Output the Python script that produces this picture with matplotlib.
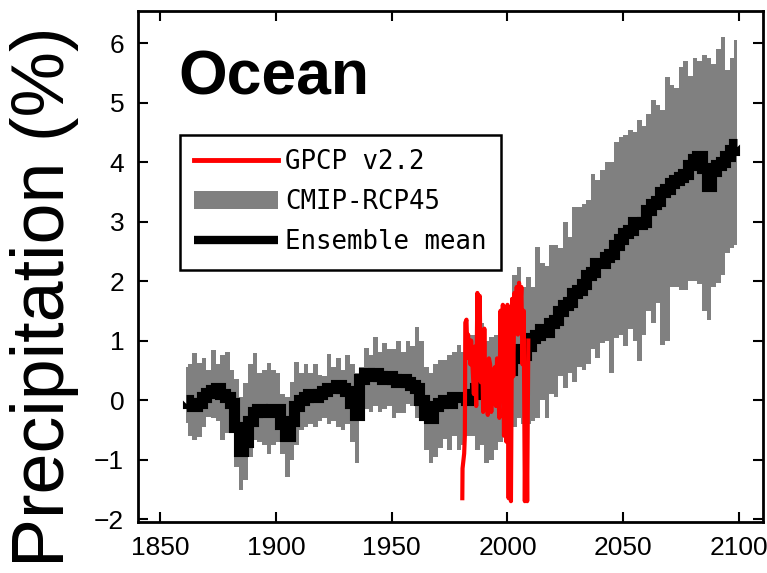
import matplotlib
matplotlib.use("Agg")
import matplotlib.pyplot as plt
import numpy as np

# Годи (центри 2-річних кроків) та значення
years = np.arange(1861, 2101, 2)

ens_mean = [0.0, -0.05, -0.1, -0.05, 0.05, 0.12, 0.17, 0.2, 0.1, 0.05,
            -0.05, -0.45, -0.85, -0.7, -0.35, -0.2, -0.15, -0.2, -0.2, -0.15,
            -0.15, -0.4, -0.6, -0.35, -0.1, 0.0, 0.05, 0.1, 0.05, 0.1,
            0.15, 0.2, 0.2, 0.25, 0.2, 0.15, -0.05, -0.25, 0.35, 0.45,
            0.4, 0.45, 0.4, 0.35, 0.4, 0.35, 0.3, 0.35, 0.3, 0.25,
            0.2, 0.0, -0.25, -0.3, -0.1, -0.05, 0.0, -0.05, 0.05, 0.05,
            0.05, 0.0, 0.1, 0.2, 0.25, 0.15, 0.1, 0.2, 0.3, 0.45,
            0.5, 0.7, 0.85, 0.75, 0.9, 1.05, 1.1, 1.2, 1.15, 1.3,
            1.35, 1.5, 1.6, 1.65, 1.8, 1.85, 1.95, 2.1, 2.15, 2.3,
            2.3, 2.4, 2.45, 2.6, 2.7, 2.8, 2.85, 3.0, 2.95, 3.0,
            3.2, 3.3, 3.35, 3.5, 3.55, 3.65, 3.7, 3.75, 3.8, 3.95,
            4.05, 4.1, 3.9, 3.6, 3.85, 3.95, 4.0, 4.1, 4.2, 4.3]

cmip_upper = [0.55, 0.6, 0.79, 0.62, 0.7, 0.5, 0.84, 0.6, 0.75, 0.8,
              0.5, 0.35, 0.05, 0.28, 0.6, 0.79, 0.45, 0.5, 0.62, 0.5,
              0.45, 0.1, 0.05, 0.3, 0.64, 0.45, 0.6, 0.45, 0.6, 0.42,
              0.4, 0.78, 0.55, 0.7, 0.5, 0.75, 0.6, 0.45, 0.55, 0.87,
              0.75, 1.06, 0.8, 0.95, 0.85, 0.85, 1.0, 0.8, 1.0, 0.9,
              1.23, 1.0, 0.56, 0.45, 0.6, 0.67, 0.67, 0.75, 0.8, 0.92,
              0.8, 0.95, 1.1, 0.95, 1.3, 1.0, 1.06, 1.1, 1.2, 1.4,
              1.6, 2.1, 2.24, 1.9, 2.07, 1.9, 2.57, 2.3, 2.25, 2.6,
              2.6, 2.55, 3.0, 2.74, 3.25, 3.25, 3.3, 3.36, 3.8, 3.7,
              3.86, 4.0, 4.0, 4.34, 4.42, 4.45, 4.54, 4.5, 4.7, 4.6,
              4.8, 5.04, 4.95, 4.87, 5.43, 5.3, 5.25, 5.6, 5.7, 5.45,
              5.75, 5.7, 5.8, 5.75, 5.65, 5.9, 6.1, 5.55, 5.75, 6.05]

cmip_lower = [-0.39, -0.6, -0.67, -0.62, -0.45, -0.28, -0.3, -0.35, -0.67, -0.55,
              -0.5, -1.12, -1.51, -1.35, -0.95, -0.67, -0.7, -0.75, -0.9, -0.75,
              -0.7, -0.9, -1.3, -1.0, -0.75, -0.5, -0.45, -0.4, -0.45, -0.35,
              -0.3, -0.4, -0.35, -0.45, -0.5, -0.4, -0.7, -1.05, -0.3, -0.15,
              -0.2, -0.1, -0.2, -0.15, -0.1, -0.3, -0.22, -0.22, -0.06, -0.1,
              -0.3, -0.34, -0.84, -1.06, -0.95, -0.8, -0.65, -0.84, -0.6, -0.84,
              -0.75, -0.6, -0.6, -0.84, -0.75, -1.06, -1.0, -0.84, -0.7, -0.6,
              -0.5, -0.45, -0.3, -0.4, -0.4, -0.35, -0.3, 0.0, -0.3, 0.1,
              0.05, 0.4, 0.2, 0.45, 0.3, 0.55, 0.5, 0.6, 0.85, 0.7,
              0.95, 1.0, 0.45, 1.05, 1.1, 0.9, 1.2, 1.0, 0.65, 1.1,
              1.5, 1.3, 1.63, 0.92, 1.0, 1.9, 1.9, 1.85, 1.85, 2.0,
              2.0, 1.95, 1.5, 1.34, 1.9, 1.97, 2.1, 2.47, 2.55, 2.6]

gpcp_years = [1980.5, 1980.6, 1981.3, 1981.6, 1981.8, 1982.3, 1982.6, 1983.0,
              1983.3, 1983.6, 1984.0, 1984.3, 1985.0, 1985.5, 1986.0, 1986.5,
              1987.0, 1987.5, 1988.0, 1988.5, 1989.0, 1989.5, 1990.0, 1990.5,
              1991.0, 1991.5, 1992.0, 1992.5, 1993.0, 1993.5, 1994.0, 1994.5,
              1995.0, 1995.5, 1996.0, 1996.5, 1997.0, 1997.5, 1998.0, 1998.5,
              1999.0, 1999.5, 2000.0, 2000.5, 2001.0, 2001.5, 2002.0, 2002.5,
              2003.0, 2003.5, 2004.0, 2004.5, 2005.0, 2005.5, 2006.0, 2006.5,
              2007.0, 2007.5, 2008.0, 2008.5, 2009.0]
gpcp_vals = [-1.65, -1.15, -0.9, -0.6, 1.3, 1.35, 0.9, 1.1,
             0.7, 1.0, 0.6, 1.0, 0.5, 0.1, 0.9, -0.1,
             1.8, 0.4, 1.75, 0.3, 1.0, -0.2, 1.2, 0.0,
             0.5, -0.25, 0.7, 0.6, -0.2, 0.5, 0.3, 0.55,
             -0.1, 0.7, 0.2, -0.3, 1.5, 0.0, 1.6, -0.6,
             1.55, -0.7, 1.6, -1.65, 1.5, -1.7, 1.7, 0.4,
             1.8, 1.2, 1.9, 1.1, 1.97, 1.5, 1.9, 0.6,
             1.5, -1.7, 0.5, -1.7, 1.0]

fig = plt.figure(figsize=(7.67, 5.73), dpi=100)
ax = fig.add_axes([0.18, 0.089, 0.815, 0.892])

band = ax.fill_between(years, cmip_lower, cmip_upper, step='mid',
                       color='#808080', lw=0, label='CMIP-RCP45')
mean_line, = ax.plot(years, ens_mean, drawstyle='steps-mid', color='black',
                     lw=8, solid_joinstyle='miter', solid_capstyle='butt',
                     label='Ensemble mean')
gpcp_line, = ax.plot(gpcp_years, gpcp_vals, color='red', lw=3,
                     label='GPCP v2.2')

ax.set_xlim(1840.5, 2110.4)
ax.set_ylim(-2.05, 6.54)
ax.set_xticks(np.arange(1850, 2101, 50))
ax.set_yticks(np.arange(-2, 7, 1))
ax.tick_params(direction='in', length=7, width=1.5, top=True, right=True,
               labelsize=19, pad=10)
for lab in ax.get_xticklabels() + ax.get_yticklabels():
    lab.set_family('Liberation Sans')
for s in ax.spines.values():
    s.set_linewidth(2)

ax.text(0.064, 0.836, 'Ocean', transform=ax.transAxes, fontsize=45,
        fontweight='bold', family='Liberation Sans', va='baseline')

fig.text(0.058, 0.482, 'Precipitation (%)', rotation=90, fontsize=53,
         family='Liberation Sans', ha='center', va='center')

leg = ax.legend([gpcp_line, band, mean_line],
                ['GPCP v2.2', 'CMIP-RCP45', 'Ensemble mean'],
                loc='upper left', bbox_to_anchor=(0.067, 0.757),
                borderaxespad=0, prop={'family': 'DejaVu Sans Mono', 'size': 18.5},
                handlelength=3.25, handletextpad=0.3, labelspacing=0.55,
                borderpad=0.55, fancybox=False, framealpha=1, edgecolor='black')
leg.get_frame().set_linewidth(1.8)
leg.legend_handles[0].set_linewidth(3.5)
leg.legend_handles[2].set_linewidth(6)

fig.savefig('out.png', dpi=100)
